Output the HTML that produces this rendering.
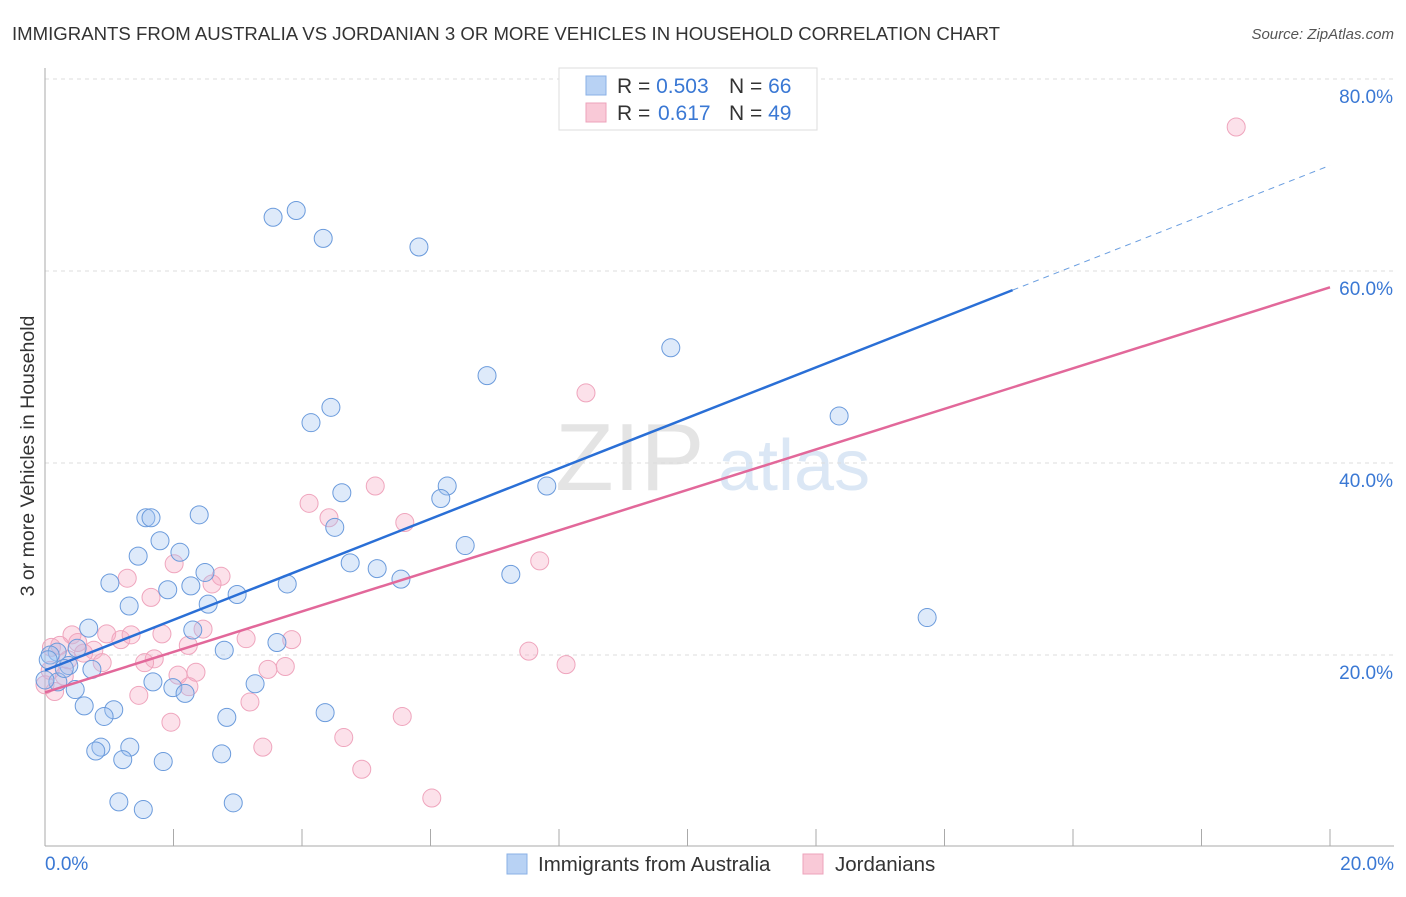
<!DOCTYPE html>
<html><head><meta charset="utf-8"><style>
body{margin:0;background:#fff;font-family:"Liberation Sans",sans-serif;}
svg text{font-family:"Liberation Sans",sans-serif;}
</style></head><body>
<svg id="chart" width="1406" height="892" viewBox="0 0 1406 892" xmlns="http://www.w3.org/2000/svg">
<text x="12" y="40" font-size="18.6" fill="#333">IMMIGRANTS FROM AUSTRALIA VS JORDANIAN 3 OR MORE VEHICLES IN HOUSEHOLD CORRELATION CHART</text>
<text x="1394" y="39" font-size="15" fill="#555" text-anchor="end" font-style="italic">Source: ZipAtlas.com</text>
<text x="555" y="490" font-size="96" fill="#e4e4e4" font-family="Liberation Serif">ZIP</text>
<text x="718" y="490" font-size="72" fill="#dbe7f5">atlas</text>
<g id="grid"></g>
<g id="axes"></g>
<g id="marks"></g>
<g id="trends"></g>
<text transform="translate(34,456) rotate(-90)" font-size="19.5" fill="#333" text-anchor="middle">3 or more Vehicles in Household</text>
<g>
<rect x="559" y="68" width="258" height="62" fill="#fff" stroke="#ddd"/>
<rect x="586" y="76" width="20" height="19" fill="#b8d2f4" stroke="#8ab0e6"/>
<rect x="586" y="103" width="20" height="19" fill="#f9c9d7" stroke="#eda3bb"/>
<text x="617" y="93" font-size="21" fill="#333">R = <tspan fill="#3a78d4">0.503</tspan><tspan x="729">N = </tspan><tspan fill="#3a78d4">66</tspan></text>
<text x="617" y="120" font-size="21" fill="#333">R = <tspan x="658" fill="#3a78d4">0.617</tspan><tspan x="729">N = </tspan><tspan fill="#3a78d4">49</tspan></text>
</g>
<g>
<rect x="507" y="854" width="20" height="20" fill="#b8d2f4" stroke="#8ab0e6"/>
<text x="538" y="871" font-size="20.5" fill="#333">Immigrants from Australia</text>
<rect x="803" y="854" width="20" height="20" fill="#f9c9d7" stroke="#eda3bb"/>
<text x="835" y="871" font-size="20.5" fill="#333">Jordanians</text>
</g>
</svg>
<script>
const yTicks=[20,40,60,80];
const yTickLabels=["20.0%","40.0%","60.0%","80.0%"];
const xEndLabels=["0.0%","20.0%"];
const blueX=[3.55,3.91,4.33,5.82,9.74,6.88,4.45,4.14,12.36,6.26,6.16,7.81,4.62,4.51,1.57,1.65,2.40,1.79,2.10,1.45,6.54,4.75,5.17,5.54,7.25,1.01,2.27,2.49,3.77,1.91,2.99,1.31,2.54,13.73,0.68,2.30,3.61,2.79,0.19,0.50,0.37,0.73,0.08,0.20,1.68,3.27,1.99,0.47,2.18,0.61,1.07,0.92,2.83,4.36,1.32,0.87,0.79,1.21,1.84,2.75,1.15,1.53,2.93,0.0,0.05,0.30];
const blueY=[65.6,66.3,63.4,62.5,52.0,49.1,45.8,44.2,44.9,37.6,36.3,37.6,36.9,33.3,34.3,34.3,34.6,31.9,30.7,30.3,31.4,29.6,29.0,27.9,28.4,27.5,27.2,28.6,27.4,26.8,26.3,25.1,25.3,23.9,22.8,22.6,21.3,20.5,20.3,20.7,18.9,18.5,20.0,17.2,17.2,17.0,16.6,16.4,16.0,14.7,14.3,13.6,13.5,14.0,10.4,10.4,10.0,9.1,8.9,9.7,4.7,3.9,4.6,17.4,19.5,18.6];
const pinkX=[18.54,8.42,5.14,4.11,4.42,5.60,7.70,2.01,2.74,1.28,2.60,1.65,0.42,0.96,1.18,1.34,1.82,2.46,3.13,3.84,2.23,0.51,0.76,0.23,7.53,1.70,1.55,0.89,8.11,3.47,3.74,2.35,2.07,2.24,1.46,3.19,1.96,5.56,4.65,3.39,4.93,6.02,0.08,0.0,0.36,0.1,0.6,0.3,0.15];
const pinkY=[75.0,47.3,37.6,35.8,34.3,33.8,29.8,29.5,28.2,28.0,27.4,26.0,22.1,22.2,21.6,22.1,22.2,22.7,21.7,21.6,21.0,21.3,20.5,21.0,20.4,19.6,19.2,19.2,19.0,18.5,18.8,18.2,17.9,16.7,15.8,15.1,13.0,13.6,11.4,10.4,8.1,5.1,18.4,16.9,19.5,20.8,20.2,17.8,16.2];
const blueTrend=[18.4,71.0], blueSolidEnd=15.06;
const pinkTrend=[16.1,58.3];
const NS="http://www.w3.org/2000/svg";
const X=v=>45+v/20*1285, Y=v=>847-v*9.6;
function mk(tag,attrs,parent){const e=document.createElementNS(NS,tag);for(const k in attrs)e.setAttribute(k,attrs[k]);parent.appendChild(e);return e;}
const grid=document.getElementById('grid'),axes=document.getElementById('axes'),marks=document.getElementById('marks'),trends=document.getElementById('trends');
yTicks.forEach((t,i)=>{
 const l=mk('line',{x1:45,x2:1394,y1:Y(t),y2:Y(t),stroke:'#ddd','stroke-dasharray':'4,4'},grid);
 
 
 const tx=mk('text',{x:1393,y:Y(t)+24,'font-size':19,fill:'#3a78d4','text-anchor':'end'},axes);
 tx.textContent=yTickLabels[i];
 
 
});
mk('line',{x1:45,x2:45,y1:68,y2:846,stroke:'#aaa'},axes);
mk('line',{x1:45,x2:1394,y1:846,y2:846,stroke:'#aaa'},axes);
for(let i=1;i<=10;i++){const px=X(i*2);const t=mk('line',{x1:px,x2:px,y1:829,y2:846,stroke:'#aaa'},axes);}
[[X(0),'start'],[X(20)+64,'end']].forEach((p,i)=>{const t=mk('text',{x:p[0],y:870,'font-size':19,fill:'#3a78d4','text-anchor':p[1]},axes);t.textContent=xEndLabels[i];});
pinkX.forEach((v,i)=>{const c=mk('circle',{cx:X(v),cy:Y(pinkY[i]),r:9,fill:'rgba(245,170,195,0.35)',stroke:'#efa5bd','stroke-width':1},marks);});
blueX.forEach((v,i)=>{const c=mk('circle',{cx:X(v),cy:Y(blueY[i]),r:9,fill:'rgba(160,196,240,0.35)',stroke:'#6b9bdc','stroke-width':1},marks);});
const by=x=>blueTrend[0]+(blueTrend[1]-blueTrend[0])*x/20;
let l1=mk('line',{x1:X(0),y1:Y(by(0)),x2:X(blueSolidEnd),y2:Y(by(blueSolidEnd)),stroke:'#2a6fd6','stroke-width':2.5},trends);


let l2=mk('line',{x1:X(blueSolidEnd),y1:Y(by(blueSolidEnd)),x2:X(20),y2:Y(by(20)),stroke:'#6a9ee0','stroke-width':1,'stroke-dasharray':'6,5'},trends);


let l3=mk('line',{x1:X(0),y1:Y(pinkTrend[0]),x2:X(20),y2:Y(pinkTrend[1]),stroke:'#e2689a','stroke-width':2.5},trends);


</script>
</body></html>
